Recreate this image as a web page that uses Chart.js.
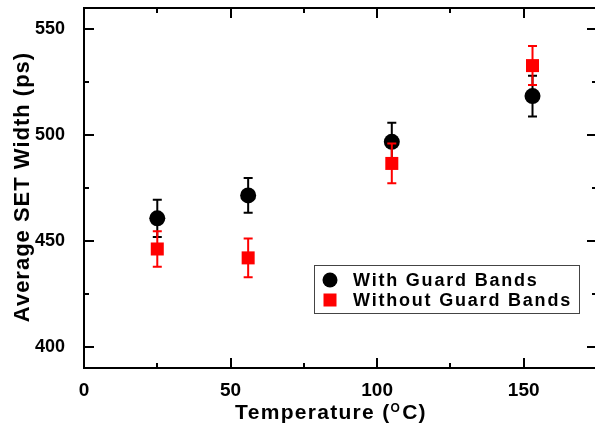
<!DOCTYPE html>
<html><head><meta charset="utf-8">
<script src="https://cdn.jsdelivr.net/npm/chart.js@4/dist/chart.umd.min.js"></script>
<style>html,body{margin:0;padding:0;background:#fff;overflow:hidden;} #wrap{width:600px;height:426px;position:relative;}</style>
</head><body><div id="wrap"><canvas id="c"></canvas></div>
<script>
const temperatures = [25, 56, 105, 153];
const withGuard = [460.7, 471.5, 496.8, 518.4];
const withGuardErr = [8.8, 8.2, 9.0, 9.6];
const withoutGuard = [446.2, 442.0, 486.6, 532.8];
const withoutGuardErr = [8.4, 9.1, 9.4, 9.2];
const xMajorTicks = [0, 50, 100, 150];
const xMinorTicks = [25, 75, 125, 175];
const yMajorTicks = [400, 450, 500, 550];
const yMinorTicks = [425, 475, 525];
const seriesLabels = ['With Guard Bands', 'Without Guard Bands'];
const xTitleParts = ['Temperature (', 'O', 'C)'];
const yTitle = 'Average SET Width (ps)';

const FONT = "'Liberation Sans', Arial, Helvetica, sans-serif";

const errorBarPlugin = {
  id: 'errorBars',
  beforeDatasetDraw(chart, args) {
    const ds = chart.data.datasets[args.index];
    if (!ds.errors) return;
    const xs = chart.scales.x, ys = chart.scales.y, ctx = chart.ctx;
    ctx.save();
    ctx.strokeStyle = ds.borderColor;
    ctx.lineWidth = 2;
    ds.data.forEach((p, i) => {
      const e = ds.errors[i];
      const px = xs.getPixelForValue(p.x);
      const t = ys.getPixelForValue(p.y + e);
      const b = ys.getPixelForValue(p.y - e);
      ctx.beginPath();
      ctx.moveTo(px, t); ctx.lineTo(px, b);
      ctx.moveTo(px - 4.5, t); ctx.lineTo(px + 4.5, t);
      ctx.moveTo(px - 4.5, b); ctx.lineTo(px + 4.5, b);
      ctx.stroke();
    });
    ctx.restore();
  }
};

const framePlugin = {
  id: 'frame',
  afterDraw(chart) {
    const {ctx, chartArea: a} = chart;
    const xs = chart.scales.x, ys = chart.scales.y;
    ctx.save();
    ctx.strokeStyle = '#000';
    ctx.lineWidth = 2;
    ctx.strokeRect(a.left, a.top, a.right - a.left, a.bottom - a.top);
    const tick = (v, len, axis) => {
      if (axis === 'x') {
        const px = Math.round(xs.getPixelForValue(v));
        ctx.moveTo(px, a.bottom); ctx.lineTo(px, a.bottom - len);
        ctx.moveTo(px, a.top); ctx.lineTo(px, a.top + len);
      } else {
        const py = Math.round(ys.getPixelForValue(v));
        ctx.moveTo(a.left, py); ctx.lineTo(a.left + len, py);
        ctx.moveTo(a.right, py); ctx.lineTo(a.right - len, py);
      }
    };
    ctx.beginPath();
    xMajorTicks.forEach(v => tick(v, 10, 'x'));
    xMinorTicks.forEach(v => tick(v, 5, 'x'));
    yMajorTicks.forEach(v => tick(v, 10, 'y'));
    yMinorTicks.forEach(v => tick(v, 5, 'y'));
    ctx.stroke();
    ctx.restore();
  }
};

const titlesPlugin = {
  id: 'titles',
  afterDraw(chart) {
    const ctx = chart.ctx;
    ctx.save();
    ctx.fillStyle = '#000';
    ctx.font = 'bold 22px ' + FONT;
    ctx.letterSpacing = '1px';
    ctx.textAlign = 'center';
    ctx.textBaseline = 'middle';
    ctx.translate(23, 187);
    ctx.rotate(-Math.PI / 2);
    ctx.fillText(yTitle, 0, 0);
    ctx.restore();
    ctx.save();
    ctx.fillStyle = '#000';
    ctx.textAlign = 'left';
    ctx.textBaseline = 'alphabetic';
    ctx.letterSpacing = '1.3px';
    const big = 'bold 21px ' + FONT, small = 'bold 12px ' + FONT;
    ctx.font = big; const w0 = ctx.measureText(xTitleParts[0]).width;
    const w2 = ctx.measureText(xTitleParts[2]).width;
    ctx.font = small; const w1 = ctx.measureText(xTitleParts[1]).width + 1;
    let x = 331 - (w0 + w1 + w2) / 2;
    const base = 419;
    ctx.font = big; ctx.fillText(xTitleParts[0], x, base); x += w0;
    ctx.font = small; ctx.fillText(xTitleParts[1], x, base - 7); x += w1;
    ctx.font = big; ctx.fillText(xTitleParts[2], x, base);
    ctx.restore();
  }
};

const legendPlugin = {
  id: 'customLegend',
  afterDraw(chart) {
    const ctx = chart.ctx;
    const dsets = chart.data.datasets;
    ctx.save();
    ctx.fillStyle = '#fff';
    ctx.fillRect(314, 265, 265, 48);
    ctx.strokeStyle = '#444';
    ctx.lineWidth = 1;
    ctx.strokeRect(314.5, 265.5, 265, 48);
    const rows = [280, 300];
    dsets.forEach((ds, i) => {
      const cy = rows[i];
      ctx.fillStyle = ds.backgroundColor;
      if (ds.pointStyle === 'circle') {
        ctx.beginPath(); ctx.arc(330, cy, 7.5, 0, Math.PI * 2); ctx.fill();
      } else {
        ctx.fillRect(323.5, cy - 6.5, 13, 13);
      }
      ctx.fillStyle = '#000';
      ctx.font = 'bold 18px ' + FONT;
      ctx.letterSpacing = '1.8px';
      ctx.textBaseline = 'alphabetic';
      ctx.textAlign = 'left';
      ctx.fillText(ds.label, 353, cy + 6);
    });
    ctx.restore();
  }
};

new Chart(document.getElementById('c'), {
  type: 'scatter',
  data: {
    datasets: [
      {
        label: seriesLabels[0],
        data: temperatures.map((t, i) => ({x: t, y: withGuard[i]})),
        errors: withGuardErr,
        backgroundColor: '#000', borderColor: '#000',
        pointStyle: 'circle', pointRadius: 8, pointHoverRadius: 8, borderWidth: 0,
        showLine: false, order: 1
      },
      {
        label: seriesLabels[1],
        data: temperatures.map((t, i) => ({x: t, y: withoutGuard[i]})),
        errors: withoutGuardErr,
        backgroundColor: '#ff0000', borderColor: '#ff0000',
        pointStyle: 'rect', pointRadius: 9.2, pointHoverRadius: 9.2, borderWidth: 0,
        showLine: false, order: 0
      }
    ]
  },
  options: {
    responsive: true, maintainAspectRatio: false, animation: false,
    layout: {autoPadding: false, padding: {left: 0, top: 8, right: 3, bottom: 0}},
    plugins: {legend: {display: false}, tooltip: {enabled: false}, title: {display: false}},
    scales: {
      x: {
        type: 'linear', min: 0, max: 175,
        grid: {display: false}, border: {display: false},
        ticks: {font: {family: FONT, weight: 'bold', size: 19}, color: '#000', padding: 3, maxRotation: 0},
        afterBuildTicks: s => { s.ticks = xMajorTicks.map(v => ({value: v})); },
        afterFit: s => { s.height = 58; s.paddingLeft = 0; s.paddingRight = 0; s.paddingTop = 0; s.paddingBottom = 0; }
      },
      y: {
        type: 'linear', min: 390, max: 560,
        grid: {display: false}, border: {display: false},
        ticks: {font: {family: FONT, weight: 'bold', size: 18}, color: '#000', padding: 11},
        afterBuildTicks: s => { s.ticks = yMajorTicks.map(v => ({value: v})); },
        afterFit: s => { s.width = 84; s.paddingLeft = 0; s.paddingRight = 0; s.paddingTop = 0; s.paddingBottom = 0; }
      }
    }
  },
  plugins: [errorBarPlugin, framePlugin, titlesPlugin, legendPlugin]
});
</script>
</body></html>
